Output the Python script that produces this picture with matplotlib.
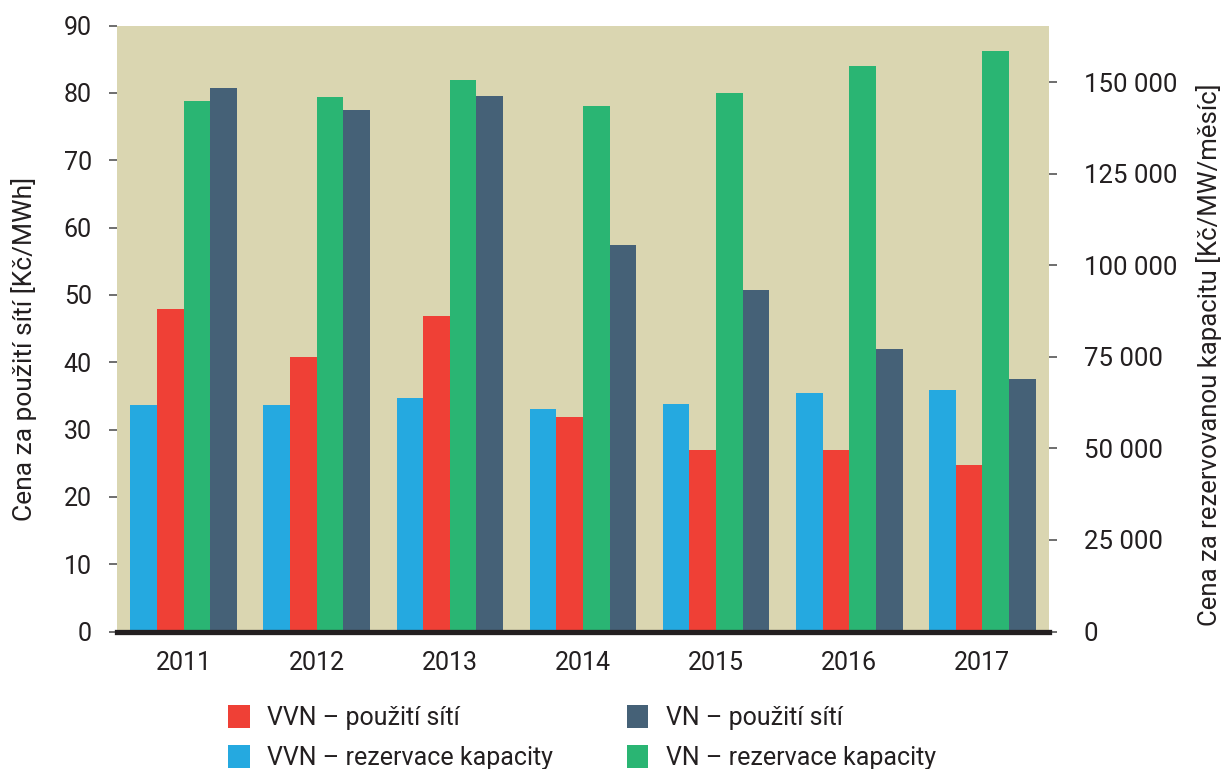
import numpy as np
import matplotlib
matplotlib.use("Agg")
import matplotlib.pyplot as plt
from matplotlib.ticker import FuncFormatter

plt.rcParams['font.family'] = ['Roboto', 'DejaVu Sans']

years = ["2011", "2012", "2013", "2014", "2015", "2016", "2017"]
# left axis: Kc/MWh
vvn_pouziti = [47.9, 40.8, 46.9, 31.9, 27.0, 27.0, 24.7]
vn_pouziti = [80.7, 77.5, 79.6, 57.4, 50.7, 42.0, 37.5]
# right axis: Kc/MW/mesic
vvn_rezervace = [61800, 61800, 63700, 60800, 62200, 65200, 66000]
vn_rezervace = [145000, 146100, 150700, 143600, 147200, 154500, 158700]

c_blue = "#25A9E0"
c_red = "#EF4036"
c_green = "#2AB573"
c_dark = "#456177"
c_bg = "#DAD6B1"
c_text = "#231F20"

fig = plt.figure(figsize=(12.21, 7.69), dpi=100)
ax = fig.add_axes([0.0958, 0.1788, 0.7633, 0.7878])
ax2 = ax.twinx()

x = np.arange(len(years))
w = 0.2

b_red = ax.bar(x - 0.5 * w, vvn_pouziti, w, color=c_red, label="VVN – použití sítí")
b_dark = ax.bar(x + 1.5 * w, vn_pouziti, w, color=c_dark, label="VN – použití sítí")
b_blue = ax2.bar(x - 1.5 * w, vvn_rezervace, w, color=c_blue, label="VVN – rezervace kapacity")
b_green = ax2.bar(x + 0.5 * w, vn_rezervace, w, color=c_green, label="VN – rezervace kapacity")

ax.set_facecolor(c_bg)
ax.set_xlim(-0.5, len(years) - 0.5)
ax.set_ylim(0, 90)
ax2.set_ylim(0, 165500)
ax.set_yticks(range(0, 91, 10))
ax2.set_yticks(range(0, 150001, 25000))
ax2.yaxis.set_major_formatter(FuncFormatter(lambda v, p: f"{int(v):,}".replace(",", " ")))

ax2.axhline(0, color=c_text, lw=3.8, zorder=10, clip_on=False)

for a in (ax, ax2):
    for s in a.spines.values():
        s.set_visible(False)

ax.set_xticks(x)
ax.set_xticklabels(years)
ax.tick_params(axis="x", length=0, pad=14, labelsize=18, labelcolor=c_text)
ax.tick_params(axis="y", length=6, width=1.2, color="#555555", pad=12, labelsize=18, labelcolor=c_text)
ax2.tick_params(axis="y", length=6, width=1.2, color="#555555", pad=19, labelsize=18.5, labelcolor=c_text)

fig.text(24 / 1221, 1 - 349 / 769, "Cena za použití sítí [Kč/MWh]", rotation=90,
         ha="center", va="center", fontsize=19, color=c_text)
fig.text(1209 / 1221, 1 - 355 / 769, "Cena za rezervovanou kapacitu [Kč/MW/měsíc]", rotation=90,
         ha="center", va="center", fontsize=18.5, color=c_text)

fig.legend(handles=[b_red, b_blue, b_dark, b_green], ncol=2, frameon=False,
           loc="upper left", bbox_to_anchor=(0.187, 0.083), borderpad=0, borderaxespad=0,
           fontsize=18, handlelength=0.85, handleheight=1.05, handletextpad=0.7,
           columnspacing=2.95, labelspacing=0.6, labelcolor=c_text)

fig.savefig("out.png", dpi=100)
